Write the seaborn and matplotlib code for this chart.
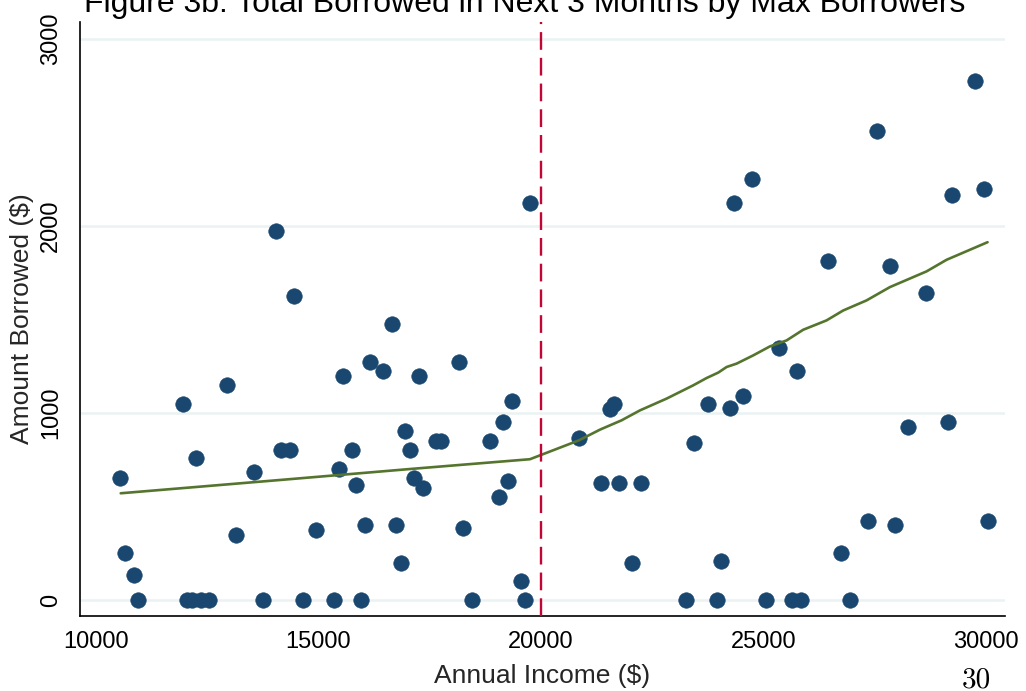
import matplotlib
matplotlib.use("Agg")
import matplotlib.pyplot as plt
import seaborn as sns
import pandas as pd

# Annual income ($) and amount borrowed ($) for each max borrower
income = [10550, 10650, 10850, 10950, 11950, 12050, 12150, 12350, 12550, 12250,
          12950, 13150, 13550, 13750, 14150, 14350, 14650, 14950, 15350, 15450,
          15550, 15750, 15850, 15950, 16050, 16150, 16450, 16750, 16850, 16950,
          17050, 17150, 17250, 17350, 17650, 17750, 18150, 18250, 18450, 18850,
          19050, 19150, 19250, 19350, 19550, 19650, 14050, 14450, 16650, 19750,
          20850, 21550, 21650, 21350, 21750, 22250, 22050, 23250, 23450, 23750,
          23950, 24050, 24250, 24550, 25050, 25350, 25650, 25850, 25750, 26750,
          26950, 27350, 27950, 28250, 29150, 30050, 24350, 24750, 27550, 29750,
          29250, 29950, 26450, 27850, 28650]
borrowed = [650, 250, 135, 0, 1050, 0, 0, 0, 0, 760,
            1150, 350, 685, 0, 800, 800, 0, 375, 0, 700,
            1200, 800, 615, 0, 400, 1275, 1225, 400, 200, 905,
            800, 650, 1200, 600, 850, 850, 1275, 385, 0, 850,
            550, 950, 635, 1065, 100, 0, 1975, 1625, 1475, 2125,
            865, 1020, 1050, 625, 625, 625, 200, 0, 840, 1050,
            0, 210, 1025, 1090, 0, 1350, 0, 0, 1225, 250,
            0, 425, 400, 925, 950, 425, 2125, 2250, 2510, 2775,
            2165, 2200, 1810, 1785, 1640]

# Smoothed (lowess) curve
fit_income = [10555, 14135, 17124, 19753, 20854, 21326, 21813, 22225, 22824,
              23423, 23723, 23985, 24173, 24398, 24771, 25146, 25521, 25894,
              26419, 26793, 27319, 27843, 28667, 29117, 30038]
fit_borrowed = [571, 642, 702, 753, 854, 911, 961, 1014, 1077,
                1148, 1187, 1216, 1246, 1264, 1308, 1356, 1388, 1445,
                1495, 1548, 1602, 1673, 1757, 1819, 1913]

cutoff = 20000
x_ticks = [10000, 15000, 20000, 25000, 30000]
y_ticks = [0, 1000, 2000, 3000]

NAVY = "#1a476f"
GREEN = "#55752f"
RED = "#c10534"
GRID = "#eaf2f3"

sns.set_theme(style="white")
plt.rcParams["font.family"] = ["Liberation Sans", "DejaVu Sans"]

points = pd.DataFrame({"income": income, "borrowed": borrowed})
fit = pd.DataFrame({"income": fit_income, "borrowed": fit_borrowed})

fig = plt.figure(figsize=(10.26, 6.91), dpi=100)
ax = fig.add_axes([80 / 1026, 1 - 616 / 691, 925 / 1026, 594 / 691])

for y in y_ticks:
    ax.axhline(y, color=GRID, lw=1.8, zorder=0)

sns.scatterplot(data=points, x="income", y="borrowed", ax=ax, color=NAVY,
                s=125, edgecolor=NAVY, linewidth=0.4, zorder=3)
sns.lineplot(data=fit, x="income", y="borrowed", ax=ax, color=GREEN, lw=1.9,
             sort=False, estimator=None, zorder=4)
ax.axvline(cutoff, color=RED, lw=1.7, linestyle=(0, (7.5, 3.4)), zorder=5)

ax.set_xlim(9640, 30430)
ax.set_ylim(-85, 3090)
ax.set_xticks(x_ticks)
ax.set_yticks(y_ticks)
ax.set_xticklabels([str(v) for v in x_ticks], fontsize=17)
ax.set_yticklabels([str(v) for v in y_ticks], fontsize=17, rotation=90, va="center")
ax.tick_params(axis="both", direction="out", length=7, width=1.2, color="black",
               labelcolor="black")
ax.tick_params(axis="x", pad=4)
ax.tick_params(axis="y", pad=6)

for side in ["top", "right"]:
    ax.spines[side].set_visible(False)
for side in ["left", "bottom"]:
    ax.spines[side].set_color("black")
    ax.spines[side].set_linewidth(1.2)

ax.set_xlabel("Annual Income ($)", fontsize=19, labelpad=8)
ax.set_ylabel("Amount Borrowed ($)", fontsize=19, labelpad=4)

fig.text(525 / 1026, 1 - 12 / 691,
         "Figure 3b: Total Borrowed in Next 3 Months by Max Borrowers",
         ha="center", va="baseline", fontsize=23, color="black")
fig.text(976 / 1026, 1 - 687 / 691, "30", ha="center", va="baseline",
         fontsize=21, family=["cmr10", "DejaVu Serif"], color="black")

fig.savefig("out.png", dpi=100, facecolor="white")
